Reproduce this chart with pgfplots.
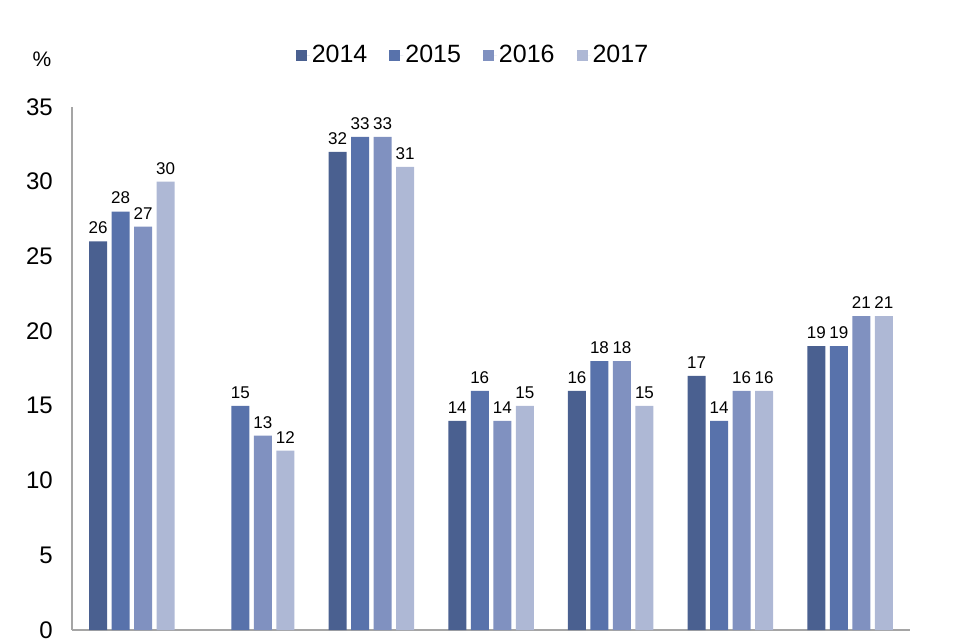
\documentclass[border=0pt]{standalone}
\usepackage{fontspec}
\setmainfont{Liberation Sans}
\usepackage{pgfplots}
\pgfplotsset{compat=1.18}
\definecolor{cA}{RGB}{74,96,144}
\definecolor{cB}{RGB}{88,114,171}
\definecolor{cC}{RGB}{128,145,192}
\definecolor{cD}{RGB}{174,184,213}
\definecolor{axgray}{RGB}{165,165,165}
\begin{document}
\begin{tikzpicture}
\path[use as bounding box] (0,0) rectangle (957pt,642pt);
\begin{axis}[
  at={(72pt,12pt)}, anchor=south west,
  width=838pt, height=523pt, scale only axis,
  /pgf/number format/assume math mode=true,
  ybar=4.5pt, bar width=18pt,
  xmin=-0.5, xmax=6.5, ymin=0, ymax=35,
  axis lines*=left,
  axis line style={draw=axgray, line width=1.2pt},
  xtick=\empty,
  ytick={0,5,...,35},
  major tick length=0pt,
  yticklabel style={font=\fontsize{24}{26}\selectfont, inner sep=0pt, xshift=-19pt},
  nodes near coords,
  every node near coord/.append style={font=\fontsize{17}{19}\selectfont, yshift=4pt, text=black},
  legend columns=4,
  legend style={at={(0.4785,1.0994)}, anchor=center, draw=none, fill=none,
    font=\fontsize{25}{27}\selectfont,
    /tikz/every even column/.append style={column sep=20pt}},
  legend image code/.code={\fill[#1] (0pt,-5.5pt) rectangle (11pt,5.5pt); \path (0pt,0pt) -- (14pt,0pt);},
  clip=false,
]
\addplot[fill=cA, draw=none] coordinates {(0,26) (2,32) (3,14) (4,16) (5,17) (6,19)};
\addplot[fill=cB, draw=none] coordinates {(0,28) (1,15) (2,33) (3,16) (4,18) (5,14) (6,19)};
\addplot[fill=cC, draw=none] coordinates {(0,27) (1,13) (2,33) (3,14) (4,18) (5,16) (6,21)};
\addplot[fill=cD, draw=none] coordinates {(0,30) (1,12) (2,31) (3,15) (4,15) (5,16) (6,21)};
\legend{2014,2015,2016,2017}
\end{axis}
\node[font=\fontsize{21}{23}\selectfont] at (42pt,583pt) {\%};
\end{tikzpicture}
\end{document}
